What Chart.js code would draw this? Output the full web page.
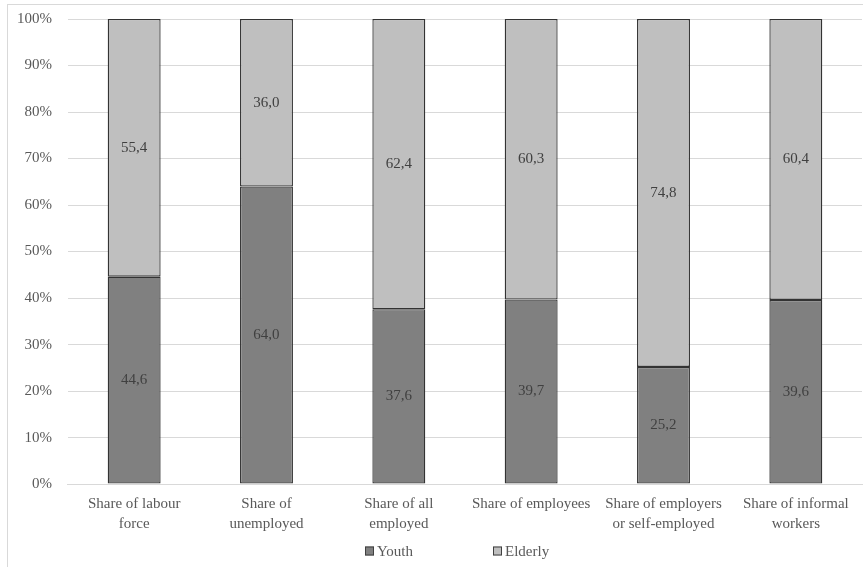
<!DOCTYPE html>
<html>
<head>
<meta charset="utf-8">
<script src="https://cdn.jsdelivr.net/npm/chart.js@4.4.1/dist/chart.umd.min.js"></script>
<style>
  html, body { margin: 0; padding: 0; background: #fff; overflow: hidden; }
  #wrap { position: relative; width: 863px; height: 567px; }
  #frame { position: absolute; left: 7px; top: 4px; width: 900px; height: 600px; border: 1px solid #d9d9d9; }
  canvas { position: absolute; left: 0; top: 0; }
</style>
</head>
<body>
<div id="wrap">
  <div id="frame"></div>
  <canvas id="chart" width="863" height="567"></canvas>
</div>
<script>
// categories (multi-line labels as in the source)
const categories = [
  ["Share of labour", "force"],
  ["Share of", "unemployed"],
  ["Share of all", "employed"],
  ["Share of employees"],
  ["Share of employers", "or self-employed"],
  ["Share of informal", "workers"]
];
const youth   = [44.6, 64.0, 37.6, 39.7, 25.2, 39.6];
const elderly = [55.4, 36.0, 62.4, 60.3, 74.8, 60.4];
const seriesNames = ["Youth", "Elderly"];
const yTicks = [0, 10, 20, 30, 40, 50, 60, 70, 80, 90, 100];

const FONT = "'Liberation Serif', 'Times New Roman', serif";
const colors = ["#808080", "#bfbfbf"];

// value labels in the middle of each segment
const valueLabels = {
  id: "valueLabels",
  afterDatasetsDraw(chart) {
    const c = chart.ctx;
    c.save();
    c.font = "15px " + FONT;
    c.fillStyle = "#404040";
    c.textAlign = "center";
    c.textBaseline = "middle";
    chart.data.datasets.forEach((ds, i) => {
      chart.getDatasetMeta(i).data.forEach((bar, j) => {
        const p = bar.getCenterPoint();
        c.fillText(ds.data[j].toFixed(1).replace(".", ","), p.x, p.y);
      });
    });
    c.restore();
  }
};

// legend drawn like the office-style one under the axis
const bottomLegend = {
  id: "bottomLegend",
  afterDraw(chart) {
    const c = chart.ctx;
    const y = 551;
    const starts = [365, 493];
    c.save();
    c.font = "15px " + FONT;
    c.textBaseline = "middle";
    c.textAlign = "left";
    chart.data.datasets.forEach((ds, i) => {
      const x = starts[i];
      c.fillStyle = ds.backgroundColor;
      c.fillRect(x, y - 4.5, 9, 9);
      c.strokeStyle = "#404040";
      c.lineWidth = 1;
      c.strokeRect(x + 0.5, y - 4, 8, 8);
      c.fillStyle = "#595959";
      c.fillText(ds.label, x + 12, y + 1);
    });
    c.restore();
  }
};

new Chart(document.getElementById("chart").getContext("2d"), {
  type: "bar",
  data: {
    labels: categories,
    datasets: [
      { label: seriesNames[0], data: youth, backgroundColor: colors[0], borderColor: "#333333", borderWidth: 1.3, borderSkipped: false, inflateAmount: 0 },
      { label: seriesNames[1], data: elderly, backgroundColor: colors[1], borderColor: "#333333", borderWidth: 1.3, borderSkipped: false, inflateAmount: 0 }
    ]
  },
  options: {
    animation: false,
    responsive: false,
    layout: { padding: { left: 1, right: 1, top: 19, bottom: 31 } },
    datasets: { bar: { categoryPercentage: 1, barPercentage: 0.4 } },
    plugins: {
      legend: { display: false },
      tooltip: { enabled: false }
    },
    scales: {
      x: {
        stacked: true,
        grid: { display: false },
        border: { color: "#d9d9d9" },
        ticks: {
          color: "#595959",
          font: { family: FONT, size: 15, lineHeight: 1.33 },
          maxRotation: 0,
          autoSkip: false,
          padding: 2
        }
      },
      y: {
        stacked: true,
        min: 0,
        max: 100,
        afterBuildTicks: (axis) => { axis.ticks = yTicks.map(v => ({ value: v })); },
        // keep the tick padding from pushing the plot down
        afterFit: (axis) => { axis.paddingTop = 8; axis.paddingBottom = 8; },
        grid: { color: "#d9d9d9", drawTicks: false },
        border: { display: false },
        ticks: {
          color: "#595959",
          font: { family: FONT, size: 15 },
          padding: 16,
          callback: (v) => v + "%"
        }
      }
    }
  },
  plugins: [valueLabels, bottomLegend]
});
</script>
</body>
</html>
